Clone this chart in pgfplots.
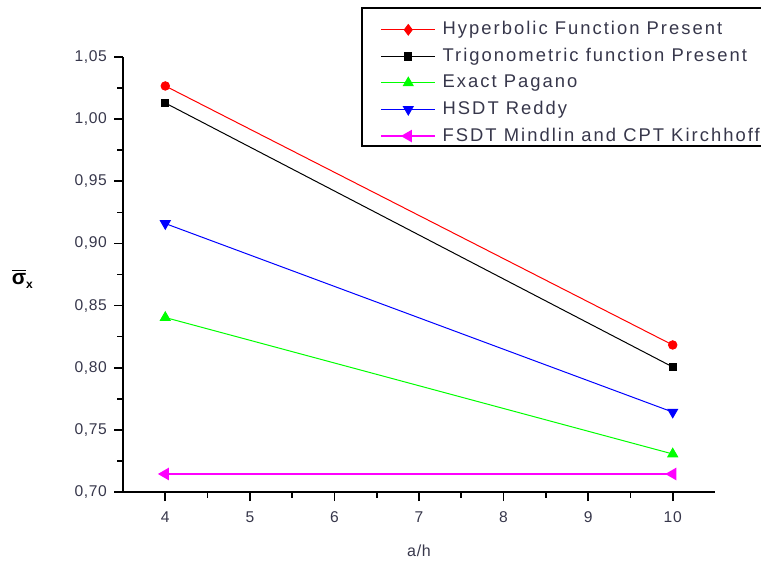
\documentclass[border=0pt]{standalone}
\usepackage{fontspec}
\setmainfont{Liberation Sans}[LetterSpace=4]
\newfontfamily\legfont{Liberation Sans}[LetterSpace=11]
\usepackage{pgfplots}
\pgfplotsset{compat=1.18}
\definecolor{txt}{RGB}{55,55,75}
\definecolor{mgreen}{RGB}{0,255,0}
\definecolor{mmag}{RGB}{255,0,255}
\begin{document}
\begin{tikzpicture}
\path[use as bounding box] (0,0) rectangle (380.5pt,281.5pt);
\begin{axis}[
  at={(61.5pt,35.5pt)}, anchor=south west,
  scale only axis, width=296pt, height=217.5pt,
  xmin=3.5, xmax=10.5, ymin=0.70, ymax=1.05,
  axis x line*=bottom, axis y line*=left,
  axis line style={line width=0.8pt, -},
  xtick={4,5,6,7,8,9,10},
  ytick={0.70,0.75,0.80,0.85,0.90,0.95,1.00,1.05},
  minor x tick num=1, minor y tick num=1,
  tick align=outside,
  major tick length=4.5pt, minor tick length=2.8pt,
  tick style={line width=0.8pt, black},
  /pgf/number format/assume math mode=true,
  yticklabel style={/pgf/number format/.cd, fixed, fixed zerofill, precision=2, use comma},
  ticklabel style={font=\fontsize{7.8}{9}\selectfont, text=txt},
  xticklabel style={yshift=-2pt},
  xlabel={a/h},
  xlabel style={font=\fontsize{8}{9}\selectfont, text=txt, at={(rel axis cs:0.5,0)}, anchor=north, yshift=-23pt},
  ylabel={\textbf{$\overline{\mbox{\bfseries σ}}$\raisebox{-0.3ex}{\fontsize{6}{7}\selectfont\bfseries x}}},
  ylabel style={rotate=-90, font=\fontsize{10.5}{12}\selectfont, at={(rel axis cs:-0.17,0.49)}, anchor=center},
  legend style={at={(rel axis cs:0.4037,1.1126)}, anchor=north west, draw=none, name=leg,
    font=\legfont\fontsize{9.2}{10}\selectfont, text=txt, inner xsep=9pt, inner ysep=4.6pt,
    row sep=1.2pt, legend cell align=left, nodes={inner xsep=3.2pt}},
  legend image code/.code={\draw[mark repeat=2,mark phase=2,#1] plot coordinates {(0pt,0pt) (13.5pt,0pt) (27pt,0pt)};},
  clip=false,
]
\addplot[red, line width=0.5pt, mark=*, mark size=2.1pt, legend image post style={mark=diamond*, mark size=2.6pt}] coordinates {(4,1.0267) (10,0.8183)};
\addlegendentry{Hyperbolic Function Present}
\addplot[black, line width=0.5pt, mark=square*, mark size=1.8pt] coordinates {(4,1.0130) (10,0.8006)};
\addlegendentry{Trigonometric function Present}
\addplot[mgreen, line width=0.5pt, mark=triangle*, mark size=2.8pt] coordinates {(4,0.8404) (10,0.7306)};
\addlegendentry{Exact Pagano}
\addplot[blue, line width=0.5pt, mark=triangle*, mark size=2.8pt, mark options={rotate=180}] coordinates {(4,0.9160) (10,0.7643)};
\addlegendentry{HSDT Reddy}
\addplot[mmag, line width=0.9pt, mark=triangle*, mark size=2.8pt, mark options={rotate=90}] coordinates {(4,0.7145) (10,0.7145)};
\addlegendentry{FSDT Mindlin and CPT Kirchhoff\hspace{8pt}}
\end{axis}
\draw[line width=0.8pt] (leg.north west) rectangle ([yshift=6pt]leg.south east);
\end{tikzpicture}
\end{document}
